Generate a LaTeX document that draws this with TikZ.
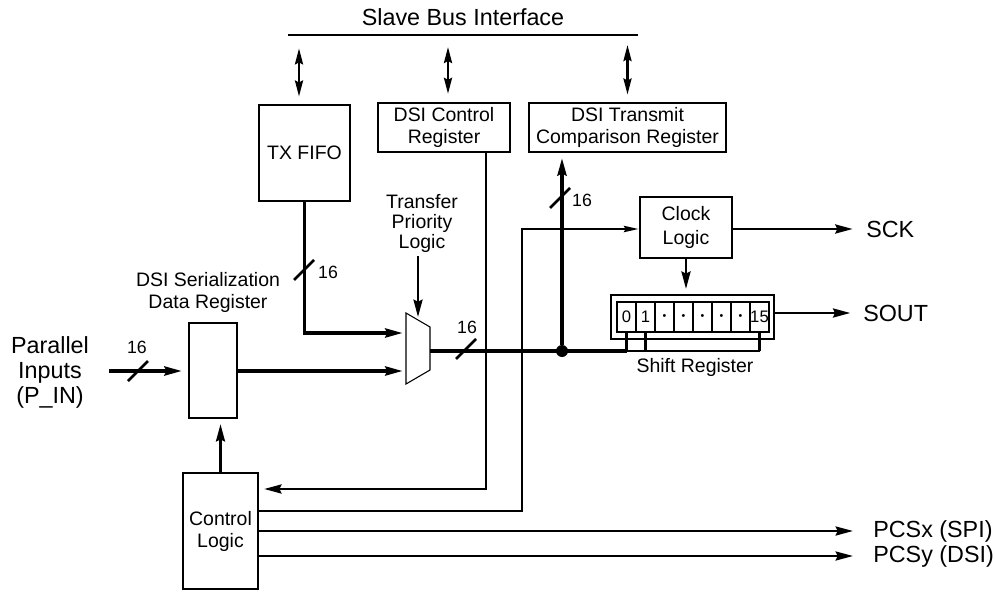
\documentclass[tikz,border=0pt]{standalone}
\usepackage{fontspec}
\setmainfont{Liberation Sans}
\usetikzlibrary{arrows.meta,calc}
\newcommand\lgfont{\fontsize{17.5}{18.75}\selectfont}
\newcommand\mdfont{\fontsize{14.6}{16.5}\selectfont}
\newcommand\smfont{\fontsize{13.3}{14}\selectfont}
\newcommand\cellfont{\fontsize{12.5}{14}\selectfont}
\newcommand\dotglyph{{\fontsize{8}{8}\selectfont •}}
\begin{document}
\begin{tikzpicture}[x=0.75pt,y=-0.75pt,
  box/.style={draw, line width=1.7pt, inner sep=0pt, align=center, font=\mdfont},
  regl/.style={line width=1.9pt},
  thkl/.style={line width=2.6pt},
  arr/.style={-{Stealth[length=13pt,width=6.75pt,inset=1.5pt]}},
  sarr/.style={-{Stealth[length=11pt,width=4.5pt,inset=1pt]}},
  dbl/.style={{Stealth[length=12pt,width=6pt,inset=1.5pt]}-{Stealth[length=12pt,width=6pt,inset=1.5pt]}},
  cell/.style={draw, line width=1.3pt, minimum width=14.25pt, minimum height=22.5pt, inner sep=0pt, font=\cellfont},
  lbl/.style={inner sep=0pt, align=center},
  num/.style={inner sep=0pt, font=\smfont},
  busslash/.pic={\draw[line width=1.9pt] (-10,10) -- (10,-10);}
]
\useasboundingbox (0,0) rectangle (995,592);

% Slave bus
\node[lbl, font=\lgfont] (sbi) at (463,17) {Slave Bus Interface};
\coordinate (busL) at (288,35);
\coordinate (busR) at (638,35);
\draw[line width=1.5pt] (busL) -- (busR);

% top registers
\node[box, minimum width=68.25pt, minimum height=72pt] (fifo) at (304.5,153) {TX FIFO};
\node[box, minimum width=99pt, minimum height=36.75pt] (dcr) at (444,127.5) {DSI Control\\Register};
\node[box, minimum width=147.75pt, minimum height=36.75pt] (dtcr) at (627.5,127.5) {DSI Transmit\\Comparison Register};

\coordinate (fifoA) at ($(fifo.north)+(-5.5,0)$);
\coordinate (dcrA) at ($(dcr.north)+(4,0)$);
\draw[regl, dbl, shorten <=10pt, shorten >=5.5pt] (fifoA |- busL) -- (fifoA);
\draw[regl, dbl, shorten <=9pt, shorten >=6pt] (dcrA |- busL) -- (dcrA);
\draw[regl, dbl, shorten <=7.5pt, shorten >=5.5pt] (dtcr.north |- busL) -- (dtcr.north);

% clock logic and shift register
\node[box, minimum width=69pt, minimum height=45.75pt] (clk) at (686,227.5) {Clock\\[2pt]Logic};
\node[draw, line width=1.6pt, minimum width=122.25pt, minimum height=33pt, inner sep=0pt] (sr) at (692.5,317) {};
\foreach \i/\t in {0/0,1/1,2/\dotglyph,3/\dotglyph,4/\dotglyph,5/\dotglyph,6/\dotglyph,7/15}
  \node[cell] (c\i) at ({626.5+19*\i},317) {\t};
\node[lbl, font=\mdfont] (srl) at (695,367) {Shift Register};

% serialization register and control logic
\node[lbl, font=\mdfont] (dsdrl) at (208,292) {DSI Serialization\\Data Register};
\node[box, minimum width=36pt, minimum height=71.25pt] (dsdr) at (213,370.5) {};
\node[box, minimum width=56.25pt, minimum height=87pt] (ctl) at (220.5,531) {Control\\Logic};

% parallel inputs
\node[lbl, font=\lgfont, align=center] (pin) at (50,372) {Parallel\\Inputs\\(P\_IN)};
\coordinate (pinS) at (109,371);

% mux
\coordinate (muxTL) at (406,313);
\coordinate (muxTR) at (430,327);
\coordinate (muxBR) at (430,370);
\coordinate (muxBL) at (406,384);
\draw[line width=0.8pt] (muxTL) -- (muxTR) -- (muxBR) -- (muxBL) -- cycle;
\coordinate (muxin1) at (406,333);
\coordinate (muxin2) at (406,371);
\coordinate (muxtop) at (418,317);
\coordinate (muxout) at (430,351);
\node[lbl, font=\fontsize{14.6}{15}\selectfont] (tpl) at (422,223) {Transfer\\Priority\\Logic};

% outputs
\node[lbl, font=\lgfont, anchor=west] (sck) at (866,229) {SCK};
\node[lbl, font=\lgfont, anchor=west] (sout) at (863,313) {SOUT};
\node[lbl, font=\lgfont, anchor=west] (pcsx) at (873,531) {PCSx (SPI)};
\node[lbl, font=\lgfont, anchor=west] (pcsy) at (873,556) {PCSy (DSI)};

% data paths
\draw[thkl, arr, shorten >=2.5pt] (fifo.south) -- (fifo.south |- muxin1) -- (muxin1);
\pic at (304,270) {busslash};
\node[num] (n1) at (328,272) {16};

\draw[thkl, arr, shorten >=4.5pt] (pinS) -- (dsdr.west |- pinS);
\pic at (138,371) {busslash};
\node[num] (n2) at (137,347) {16};

\draw[thkl, arr, shorten >=2.5pt] (dsdr.east |- muxin2) -- (muxin2);
\draw[regl, arr, shorten <=3pt] (tpl.south -| muxtop) -- (muxtop);

\node[circle, fill, inner sep=0pt, minimum size=9pt] (dot) at (562,351) {};
\coordinate (tapA) at (c0.south |- dot);
\coordinate (tapB) at (c7.south |- dot);
\draw[thkl] (muxout) -- (tapA);
\pic at (466,349) {busslash};
\node[num] (n3) at (467,327) {16};
\draw[regl] (tapA) -- (tapB);
\draw[regl] (c0.south) -- (tapA);
\draw[regl] (c1.south) -- (c1.south |- dot);
\draw[regl] (c7.south) -- (tapB);

\draw[thkl, arr, shorten >=3.75pt] (dot) -- (dot |- dtcr.south);
\pic at (560,198) {busslash};
\node[num] (n4) at (582,200) {16};

% control paths
\coordinate (ctlin) at (ctl.east |- 0,489);
\coordinate (dcrB) at ($(dcr.south)+(42,0)$);
\draw[regl, arr, shorten >=3.75pt] (dcrB) -- (dcrB |- ctlin) -- (ctlin);
\coordinate (ctlout) at (ctl.east |- 0,511);
\draw[regl, sarr] (ctlout) -- (522,511) -- (522,229) -- (clk.west |- 0,229);
\draw[regl, arr, shorten >=3.75pt] (ctl.north) -- (ctl.north |- dsdr.south);

\draw[regl, arr, shorten >=10pt] (clk.east |- sck) -- (sck.west);
\draw[regl, arr, shorten >=3.75pt] (clk.south) -- (clk.south |- sr.north);
\draw[regl, arr, shorten >=9.5pt] (sr.east |- sout) -- (sout.west);
\draw[regl, arr, shorten >=15pt] (ctl.east |- pcsx) -- (pcsx.west);
\draw[regl, arr, shorten >=15pt] (ctl.east |- pcsy) -- (pcsy.west);
\end{tikzpicture}
\end{document}
